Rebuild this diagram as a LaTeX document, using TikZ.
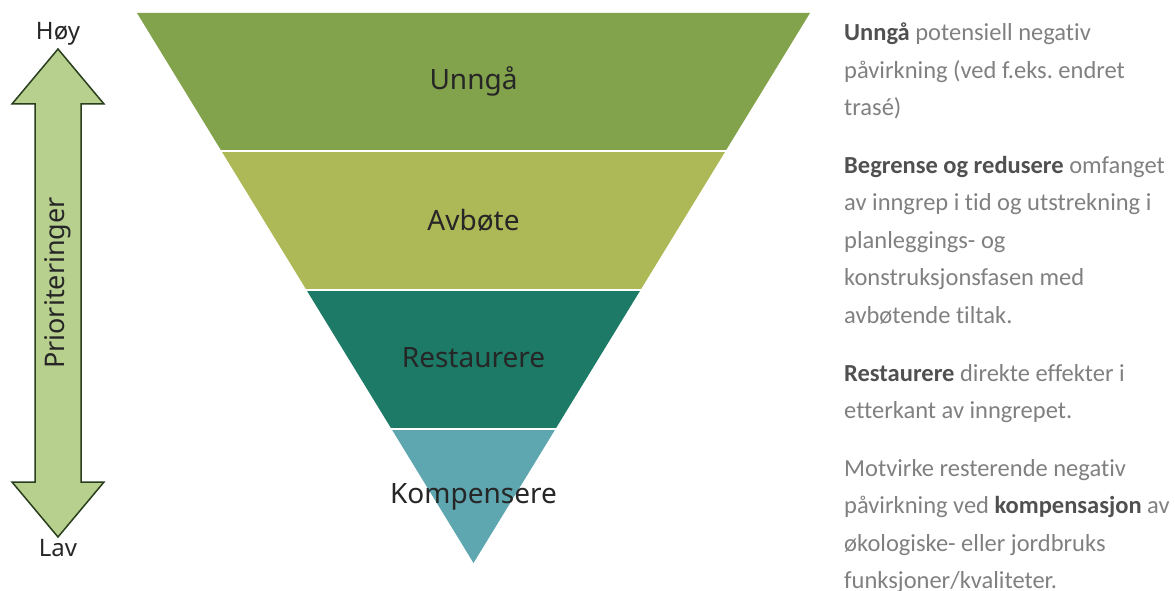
\documentclass[tikz,border=0pt]{standalone}
\usepackage{fontspec}
\setmainfont[Ligatures=NoCommon]{Carlito}
\newfontfamily\labelfont{Noto Sans}
\usetikzlibrary{positioning}
\definecolor{unnga}{RGB}{130,162,75}
\definecolor{avbote}{RGB}{173,184,86}
\definecolor{restaurere}{RGB}{28,122,102}
\definecolor{kompensere}{RGB}{94,166,176}
\definecolor{pilfyll}{RGB}{184,208,142}
\definecolor{pilkant}{RGB}{40,62,28}
\definecolor{textgra}{RGB}{128,128,128}
\definecolor{textmork}{RGB}{80,80,80}
\definecolor{etikett}{RGB}{38,38,38}
\newcommand{\fet}[1]{{\bfseries\color{textmork}#1}}
\frenchspacing

\begin{document}
\begin{tikzpicture}
[x=1pt,y=-1pt,
band/.style = {font=\labelfont\fontsize{28}{32}\selectfont, text=etikett},
side/.style = {font=\labelfont\fontsize{24}{28}\selectfont, text=etikett},
forklaring/.style = {anchor=north west, align=left, inner sep=0pt, text=textgra,
  font=\fontsize{24.5}{37.5}\selectfont},]
\useasboundingbox (0,0) rectangle (1175,591);
% trekanten
\coordinate (V) at (137,13);
\coordinate (H) at (810,13);
\coordinate (S) at (473.5,563);
\begin{scope}
\clip (V) -- (H) -- (S) -- cycle;
\fill[unnga] (0,0) rectangle (1175,151);
\fill[avbote] (0,151) rectangle (1175,290);
\fill[restaurere] (0,290) rectangle (1175,429);
\fill[kompensere] (0,429) rectangle (1175,591);
\end{scope}
\draw[white,line width=2.5pt] (120,151) -- (830,151) (120,290) -- (830,290) (120,429) -- (830,429);
\node (B1) at (473.5,81)[band] {Unngå};
\node (B2) at (473.5,220)[band] {Avbøte};
\node (B3) at (473.5,358)[band] {Restaurere};
\node (B4) at (473.5,497)[band] {Kompensere};
% pila
\draw[pilkant,fill=pilfyll,line width=1.5pt,line join=miter]
  (58,49) -- (104,104) -- (81,104) -- (81,482) -- (104,482) -- (58,537)
  -- (12,482) -- (35,482) -- (35,104) -- (12,104) -- cycle;
\node (hoy) at (58,34)[side] {Høy};
\node (lav) at (58,548)[side] {Lav};
\node (prio) at (58,283)[side,rotate=90,font=\labelfont\fontsize{27}{30}\selectfont] {Prioriteringer};
% tekst
\node (T1) at (844,23)[forklaring] {\fet{Unngå} potensiell negativ\\påvirkning (ved f.eks. endret\\trasé)};
\node (T2) at (844,156)[forklaring] {\fet{Begrense og redusere} omfanget\\av inngrep i tid og utstrekning i\\planleggings- og\\konstruksjonsfasen med\\avbøtende tiltak.};
\node (T3) at (844,364)[forklaring] {\fet{Restaurere} direkte effekter i\\etterkant av inngrepet.};
\node (T4) at (844,459)[forklaring] {Motvirke resterende negativ\\påvirkning ved \fet{kompensasjon} av\\økologiske- eller jordbruks\\funksjoner/kvaliteter.};
\end{tikzpicture}
\end{document}
